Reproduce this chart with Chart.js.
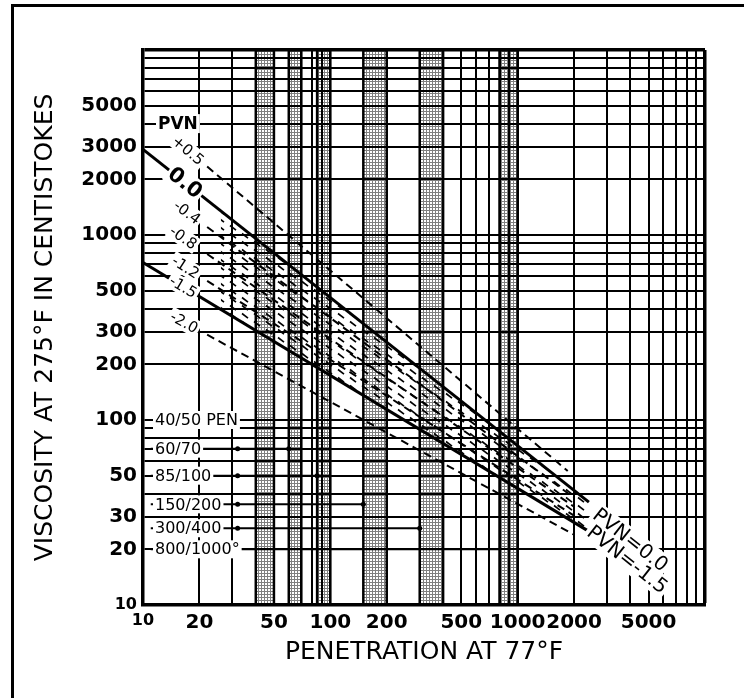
<!DOCTYPE html>
<html>
<head>
<meta charset="utf-8">
<script src="https://cdn.jsdelivr.net/npm/chart.js@4"></script>
<style>
  html, body { margin: 0; padding: 0; background: #fff; overflow: hidden; }
  #wrap { position: relative; width: 744px; height: 698px; }
  #frame { position: absolute; left: 11px; top: 4px; width: 780px; height: 740px;
           border: 3px solid #000; box-sizing: border-box; pointer-events: none; }
  canvas { position: absolute; left: 0; top: 0; }
</style>
</head>
<body>
<div id="wrap">
  <canvas id="chart" width="744" height="698"></canvas>
  <div id="frame"></div>
</div>
<script>
// ---------------------------------------------------------
// Data (log-log, both axes 10..10000)
// ---------------------------------------------------------
const gridValues = [10, 20, 30, 40, 50, 60, 70, 80, 90,
                    100, 200, 300, 400, 500, 600, 700, 800, 900,
                    1000, 2000, 3000, 4000, 5000, 6000, 7000, 8000, 9000, 10000];
const xTickLabels = [10, 20, 50, 100, 200, 500, 1000, 2000, 5000];
const yTickLabels = [10, 20, 30, 50, 100, 200, 300, 500, 1000, 2000, 3000, 5000];

// penetration grades (shaded bands) and their leader lines
const gradeNames   = ["40/50 PEN", "60/70", "85/100", "150/200", "300/400", "800/1000°"];
const gradeLow     = [40, 60, 85, 150, 300, 800];
const gradeHigh    = [50, 70, 100, 200, 400, 1000];
const gradeLeaderY = [100, 70, 50, 35, 26, 20];
const gradeDotX    = [null, 32, 32, 32, 32, null];

// PVN lines: start / end points (penetration, viscosity)
const pvnNames  = ["+0.5", "0.0", "-0.4", "-0.8", "-1.2", "-1.5", "-2.0"];
const pvnSolid  = [false, true, false, false, false, true, false];
const pvnStartX = [22, 10, 22, 22, 22, 10, 22];
const pvnStartY = [2345, 2900, 1104, 789, 565, 710, 289];
const pvnEndX   = [1850, 2400, 2000, 2000, 2000, 2400, 2000];
const pvnEndY   = [53, 36, 38, 34, 30.4, 25, 24];
const pvnLabelX = [17.4, 16.8, 17.2, 16.4, 16.9, 16.4, 16.6];

// hatched zone between PVN 0.0 and PVN -1.5
const hatchFromX = 26;

// end labels along the two solid lines
const endLabelText = ["PVN=0.0", "PVN=-1.5"];
const endLabelLine = [1, 5];
const endLabelX    = [4000, 3850];

const FONT = "'DejaVu Sans', sans-serif";

// ---------------------------------------------------------
// Patterns
// ---------------------------------------------------------
const canvas = document.getElementById("chart");
const ctx = canvas.getContext("2d");

function stipple() {
    const c = document.createElement("canvas");
    c.width = 3; c.height = 3;
    const g = c.getContext("2d");
    g.fillStyle = "rgba(0,0,0,0.5)";
    g.fillRect(0, 0, 3, 1);
    g.fillRect(0, 1, 1, 2);
    return ctx.createPattern(c, "repeat");
}

function hatch() {
    const c = document.createElement("canvas");
    c.width = 12; c.height = 8;
    const g = c.getContext("2d");
    g.strokeStyle = "#000";
    g.lineWidth = 1.6;
    g.beginPath();
    g.moveTo(2, 1.5);
    g.lineTo(8, 6.2);
    g.stroke();
    return ctx.createPattern(c, "repeat");
}

function yOnLine(i, px) {
    const lx0 = Math.log10(pvnStartX[i]), lx1 = Math.log10(pvnEndX[i]);
    const ly0 = Math.log10(pvnStartY[i]), ly1 = Math.log10(pvnEndY[i]);
    return Math.pow(10, ly0 + (Math.log10(px) - lx0) * (ly1 - ly0) / (lx1 - lx0));
}

// ---------------------------------------------------------
// Datasets
// ---------------------------------------------------------
const datasets = [];

pvnNames.forEach((name, i) => {
    datasets.push({
        label: "PVN " + name,
        data: [{ x: pvnStartX[i], y: pvnStartY[i] }, { x: pvnEndX[i], y: pvnEndY[i] }],
        borderColor: "#000",
        borderWidth: pvnSolid[i] ? 3 : 2,
        borderDash: pvnSolid[i] ? [] : [8, 5],
        pointRadius: 0,
        fill: false,
        order: 1
    });
});

// hatch boundaries (follow the two solid lines)
const hatchTop = datasets.length;
datasets.push({
    label: "hatch top",
    data: [{ x: hatchFromX, y: yOnLine(1, hatchFromX) }, { x: pvnEndX[1], y: pvnEndY[1] }],
    borderWidth: 0,
    borderColor: "rgba(0,0,0,0)",
    backgroundColor: hatch(),
    pointRadius: 0,
    fill: { target: hatchTop + 1 },
    order: 3
});
datasets.push({
    label: "hatch bottom",
    data: [{ x: hatchFromX, y: yOnLine(5, hatchFromX) }, { x: pvnEndX[5], y: pvnEndY[5] }],
    borderWidth: 0,
    borderColor: "rgba(0,0,0,0)",
    pointRadius: 0,
    fill: false,
    order: 3
});

gradeNames.forEach((name, i) => {
    const pts = [{ x: 11, y: gradeLeaderY[i] }];
    const radii = [0];
    if (gradeDotX[i] !== null) {
        pts.push({ x: gradeDotX[i], y: gradeLeaderY[i] });
        radii.push(2.5);
    }
    pts.push({ x: gradeLow[i], y: gradeLeaderY[i] });
    radii.push(gradeDotX[i] !== null ? 2.5 : 0);
    datasets.push({
        label: name + " leader",
        data: pts,
        borderColor: "#000",
        backgroundColor: "#000",
        borderWidth: 2,
        pointRadius: radii,
        pointBorderWidth: 0,
        fill: false,
        order: 2
    });
});

const bandFill = stipple();
gradeNames.forEach((name, i) => {
    datasets.push({
        label: name + " band",
        data: [
            { x: gradeLow[i], y: 10 }, { x: gradeLow[i], y: 10000 },
            { x: gradeHigh[i], y: 10000 }, { x: gradeHigh[i], y: 10 }
        ],
        borderColor: "#000",
        borderWidth: 2.5,
        backgroundColor: bandFill,
        pointRadius: 0,
        fill: "start",
        order: 5
    });
});

// ---------------------------------------------------------
// Text labels drawn through the scales
// ---------------------------------------------------------
function boxedText(c, text, x, y, angle, font, align) {
    c.save();
    c.translate(x, y);
    c.rotate(angle);
    c.font = font;
    c.textBaseline = "middle";
    c.textAlign = align || "center";
    const w = c.measureText(text).width;
    const h = parseInt(font.match(/(\d+)px/)[1], 10);
    const x0 = align === "left" ? -2 : -w / 2 - 2;
    c.fillStyle = "#fff";
    c.fillRect(x0, -h / 2 - 1, w + 4, h + 2);
    c.fillStyle = "#000";
    c.fillText(text, 0, 1);
    c.restore();
}

const labelPlugin = {
    id: "nomoLabels",
    afterDatasetsDraw(chart) {
        const c = chart.ctx;
        const xs = chart.scales.x, ys = chart.scales.y;
        const area = chart.chartArea;
        c.save();
        c.beginPath();
        c.rect(area.left, area.top, area.right - area.left, area.bottom - area.top);
        c.clip();

        // header
        boxedText(c, "PVN", area.left + 15, ys.getPixelForValue(4000), 0,
                  "bold 17px " + FONT, "left");

        // PVN labels on the lines
        pvnNames.forEach((name, i) => {
            const ax = xs.getPixelForValue(pvnStartX[i]), ay = ys.getPixelForValue(pvnStartY[i]);
            const bx = xs.getPixelForValue(pvnEndX[i]), by = ys.getPixelForValue(pvnEndY[i]);
            const ang = Math.atan2(by - ay, bx - ax);
            const px = xs.getPixelForValue(pvnLabelX[i]);
            const py = ys.getPixelForValue(yOnLine(i, pvnLabelX[i]));
            const f = name === "0.0" ? "bold 21px " + FONT : "15px " + FONT;
            boxedText(c, name, px, py, ang, f);
        });

        // end labels, set along the PVN 0.0 direction
        const a0x = xs.getPixelForValue(pvnStartX[1]), a0y = ys.getPixelForValue(pvnStartY[1]);
        const b0x = xs.getPixelForValue(pvnEndX[1]), b0y = ys.getPixelForValue(pvnEndY[1]);
        const endAng = Math.atan2(b0y - a0y, b0x - a0x);
        endLabelText.forEach((t, k) => {
            const li = endLabelLine[k];
            const px = xs.getPixelForValue(endLabelX[k]);
            const py = ys.getPixelForValue(yOnLine(li, endLabelX[k])) + 5;
            boxedText(c, t, px, py, endAng, "20px " + FONT);
        });

        // grade names
        gradeNames.forEach((name, i) => {
            boxedText(c, name, area.left + 12, ys.getPixelForValue(gradeLeaderY[i]), 0,
                      "16px " + FONT, "left");
        });
        c.restore();
    }
};

// ---------------------------------------------------------
// Chart
// ---------------------------------------------------------
const tickFont = (c) => ({
    family: FONT,
    size: c.tick && c.tick.value === 10 ? 16 : 20,
    weight: "bold"
});
const gridWidth = (c) => (c.tick && c.tick.value === 10000 ? 3.5 : 2);

new Chart(canvas, {
    type: "line",
    data: { datasets: datasets },
    options: {
        responsive: false,
        animation: false,
        events: [],
        layout: { padding: { left: 12, right: 39, top: 50, bottom: 0 } },
        plugins: {
            legend: { display: false },
            tooltip: { enabled: false }
        },
        scales: {
            x: {
                type: "logarithmic",
                min: 10,
                max: 10000,
                afterBuildTicks: (s) => { s.ticks = gridValues.map(v => ({ value: v })); },
                afterFit: (s) => { s.height = 93; },
                grid: { color: "#000", lineWidth: gridWidth, drawTicks: false },
                border: { color: "#000", width: 3.5 },
                ticks: {
                    autoSkip: false,
                    maxRotation: 0,
                    padding: 6,
                    color: "#000",
                    font: tickFont,
                    callback: (v) => xTickLabels.includes(v) ? String(v) : ""
                },
                title: {
                    display: true,
                    text: "PENETRATION AT 77°F",
                    color: "#000",
                    font: { family: FONT, size: 25 },
                    padding: { top: 0, bottom: 31 }
                }
            },
            y: {
                type: "logarithmic",
                min: 10,
                max: 10000,
                afterBuildTicks: (s) => { s.ticks = gridValues.map(v => ({ value: v })); },
                afterFit: (s) => { s.width = 131; },
                grid: { color: "#000", lineWidth: gridWidth, drawTicks: false },
                border: { color: "#000", width: 3.5 },
                ticks: {
                    autoSkip: false,
                    padding: 6,
                    color: "#000",
                    font: tickFont,
                    callback: (v) => yTickLabels.includes(v) ? String(v) : ""
                },
                title: {
                    display: true,
                    text: "VISCOSITY AT 275°F IN CENTISTOKES",
                    color: "#000",
                    font: { family: FONT, size: 25 },
                    padding: { top: 18, bottom: 0 }
                }
            }
        }
    },
    plugins: [labelPlugin]
});
</script>
</body>
</html>
